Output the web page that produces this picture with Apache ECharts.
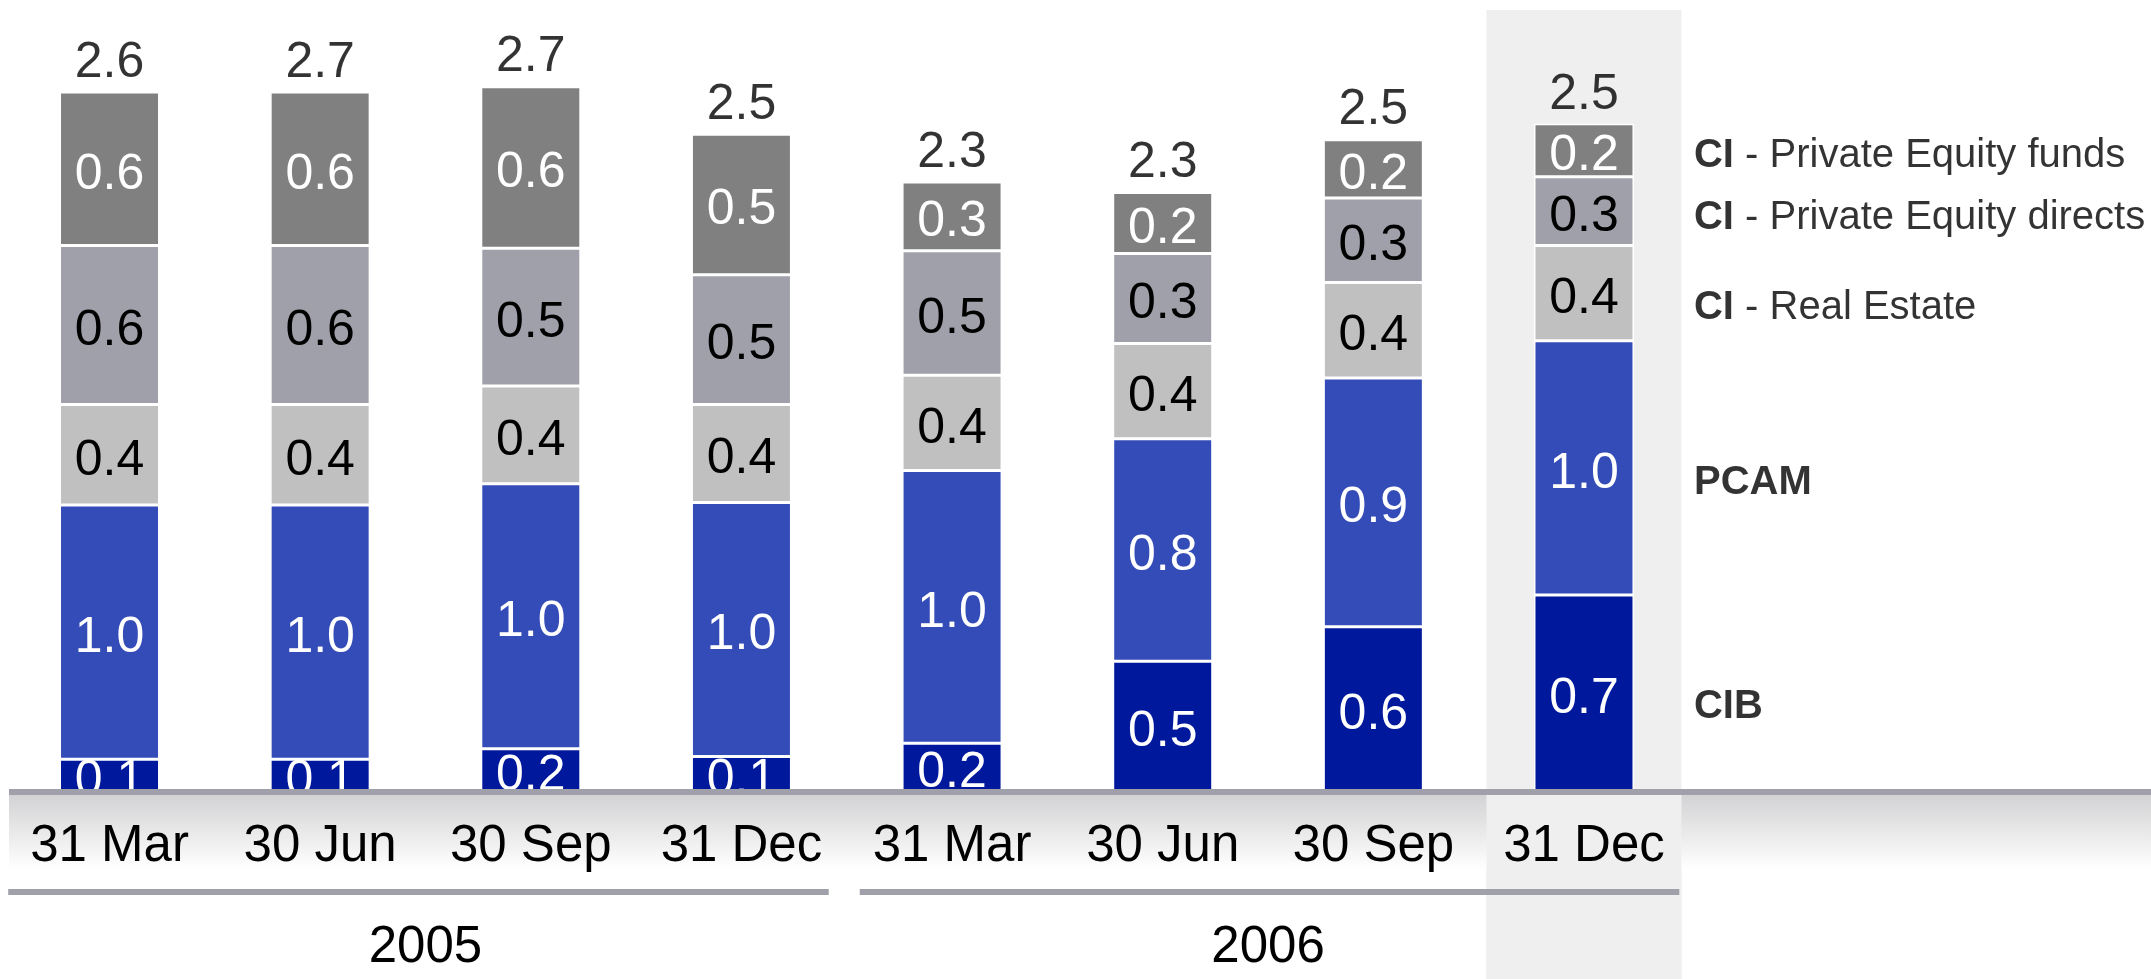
<!DOCTYPE html>
<html>
<head>
<meta charset="utf-8">
<script src="https://cdn.jsdelivr.net/npm/echarts@6/dist/echarts.min.js"></script>
<style>
html, body { margin: 0; padding: 0; background: #fff; }
#chart { width: 2151px; height: 979px; }
</style>
</head>
<body>
<div id="chart"></div>
<script>
(function () {

    // quarter-end values, stacked bottom to top
    var quarters = ['31 Mar', '30 Jun', '30 Sep', '31 Dec', '31 Mar', '30 Jun', '30 Sep', '31 Dec'];
    var years = ['2005', '2006'];
    var cib = [0.12, 0.12, 0.16, 0.13, 0.18, 0.49, 0.62, 0.74];
    var pcam = [0.96, 0.96, 1.00, 0.96, 1.03, 0.84, 0.94, 0.96];
    var realEstate = [0.38, 0.38, 0.37, 0.37, 0.36, 0.36, 0.36, 0.36];
    var peDirects = [0.60, 0.60, 0.52, 0.49, 0.47, 0.34, 0.32, 0.26];
    var peFunds = [0.58, 0.58, 0.61, 0.53, 0.26, 0.23, 0.22, 0.20];
    var totals = ['2.6', '2.7', '2.7', '2.5', '2.3', '2.3', '2.5', '2.5'];
    var legendBold = ['CIB', 'PCAM', 'CI', 'CI', 'CI'];
    var legendRest = ['', '', ' - Real Estate', ' - Private Equity directs', ' - Private Equity funds'];

    var font = 'Liberation Sans, Arial, Helvetica, sans-serif';
    var layers = [
        { name: 'CIB', data: cib, color: '#00189C', text: '#ffffff', nudge: 14 },
        { name: 'PCAM', data: pcam, color: '#344CB7', text: '#ffffff', nudge: 15 },
        { name: 'CI - Real Estate', data: realEstate, color: '#C0C0C0', text: '#000000', nudge: 15 },
        { name: 'CI - Private Equity directs', data: peDirects, color: '#A0A0AA', text: '#000000', nudge: 7 },
        { name: 'CI - Private Equity funds', data: peFunds, color: '#808080', text: '#ffffff', nudge: 6 }
    ];

    var last = quarters.length - 1;
    var sums = quarters.map(function (q, i) {
        return layers.reduce(function (s, l) { return s + l.data[i]; }, 0);
    });

    var series = layers.map(function (l) {
        return {
            name: l.name,
            type: 'bar',
            stack: 'total',
            barWidth: 100,
            data: l.data,
            itemStyle: { color: l.color, borderColor: '#ffffff', borderWidth: 1.5 },
            label: {
                show: true,
                position: 'inside',
                offset: [0, 6],
                color: l.text,
                fontFamily: font,
                fontSize: 50,
                formatter: function (p) { return p.value.toFixed(1); }
            }
        };
    });

    series.push({
        name: 'totals',
        type: 'scatter',
        symbolSize: 0,
        data: sums.map(function (s, i) { return [i, s]; }),
        label: {
            show: true,
            position: 'top',
            distance: 4,
            color: '#000',
            fontFamily: font,
            fontSize: 50,
            formatter: function (p) { return totals[p.dataIndex]; }
        }
    });

    var below = 0;
    var legendPoints = layers.map(function (l) {
        var mid = below + l.data[last] / 2;
        below += l.data[last];
        return { value: [last, mid], label: { offset: [0, l.nudge] } };
    });

    series.push({
        name: 'names',
        type: 'scatter',
        symbolSize: 0,
        data: legendPoints,
        label: {
            show: true,
            position: 'right',
            distance: 110,
            color: '#000',
            fontFamily: font,
            fontSize: 40,
            formatter: function (p) {
                var rest = legendRest[p.dataIndex];
                return '{b|' + legendBold[p.dataIndex] + '}' + (rest ? '{n|' + rest + '}' : '');
            },
            rich: {
                b: { fontFamily: font, fontSize: 40, fontWeight: 'bold', color: '#000' },
                n: { fontFamily: font, fontSize: 40, color: '#000' }
            }
        }
    });

    var chart = echarts.init(document.getElementById('chart'));

    chart.setOption({
        animation: false,
        backgroundColor: '#ffffff',
        grid: { left: 4.2, right: 461.7, top: 49.6, bottom: 188 },
        xAxis: {
            type: 'category',
            data: quarters,
            z: 10,
            axisLine: { show: false },
            axisTick: { show: false },
            axisLabel: {
                color: '#000',
                fontFamily: font,
                fontSize: 51,
                margin: 30,
                interval: 0
            }
        },
        yAxis: {
            type: 'value',
            min: 0,
            max: 2.8,
            show: false,
            splitLine: { show: false }
        },
        series: series
    });

    // decorations placed from the axis scale
    function px(i, v) {
        return chart.convertToPixel({ gridIndex: 0 }, [i, v]);
    }
    var band = px(1, 0)[0] - px(0, 0)[0];
    var baseY = px(0, 0)[1];
    var hiX = px(last, 0)[0] - band * 0.463;
    var hiW = band * 0.926;
    var lineColor = '#A0A0AA';

    var groups = [
        { from: 0, to: 3, padL: 4, padR: 18 },
        { from: 4, to: 7, padL: 13, padR: 10 }
    ];

    var elements = [
        { type: 'rect', z: -10, shape: { x: hiX, y: 10, width: hiW, height: 979 }, style: { fill: '#EFEFEF' } },
        {
            type: 'rect', z: 5,
            shape: { x: 9, y: baseY + 3, width: 2151, height: 75 },
            style: {
                fill: new echarts.graphic.LinearGradient(0, 0, 0, 1, [
                    { offset: 0, color: '#D2D2D4' },
                    { offset: 1, color: '#FFFFFF' }
                ])
            }
        },
        { type: 'rect', z: 6, shape: { x: hiX, y: baseY + 3, width: hiW, height: 200 }, style: { fill: '#EFEFEF' } },
        { type: 'rect', z: 7, shape: { x: 9, y: baseY - 2, width: 2151, height: 6 }, style: { fill: lineColor } }
    ];

    groups.forEach(function (g, k) {
        var x0 = px(g.from, 0)[0] - band / 2 + g.padL;
        var x1 = px(g.to, 0)[0] + band / 2 - g.padR;
        elements.push({ type: 'rect', z: 7, shape: { x: x0, y: 889, width: x1 - x0, height: 6 }, style: { fill: lineColor } });
        elements.push({
            type: 'text', z: 10,
            x: (px(g.from, 0)[0] + px(g.to, 0)[0]) / 2, y: 948,
            style: {
                text: years[k], fill: '#000', font: '51px ' + font,
                textAlign: 'center', textVerticalAlign: 'middle'
            }
        });
    });

    chart.setOption({ graphic: { elements: elements } });
})();
</script>
</body>
</html>
